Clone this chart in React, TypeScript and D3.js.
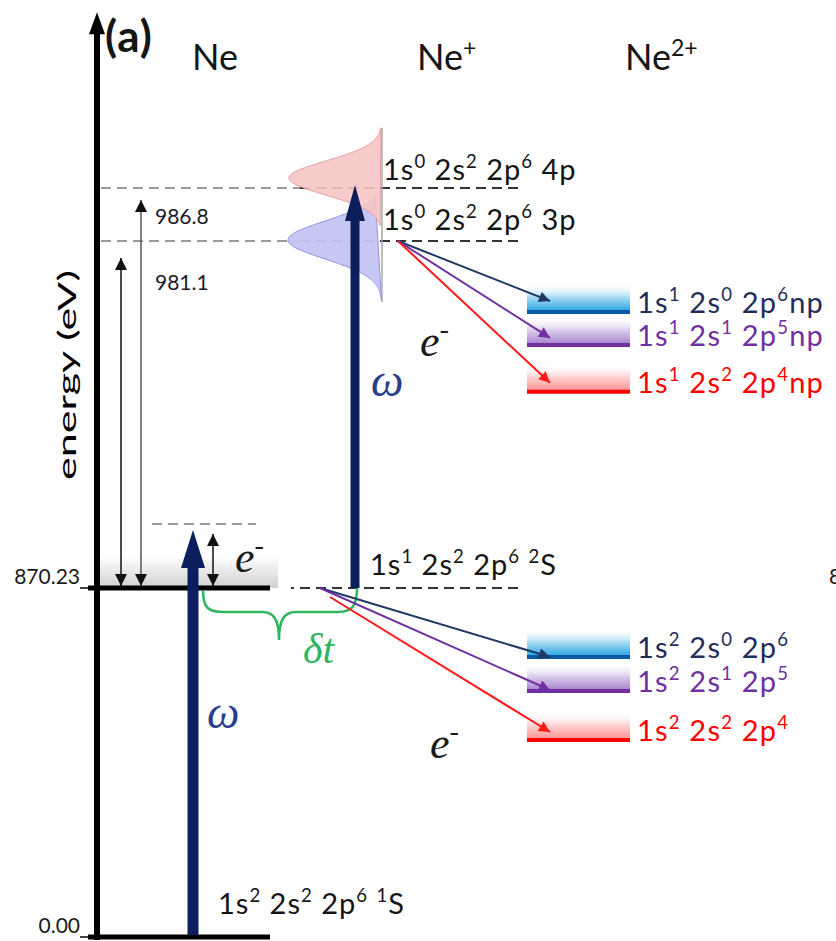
import React from "react";
import * as d3 from "d3";

const W = 836;
const H = 941;

// Energy axis (eV); the diagram is schematic, so the scale is piecewise.
const axisEnergies = [0, 870.23, 981.1, 986.8];
const axisTopEnergy = 1005.7;
const tickValues = [0, 870.23];
const tickLabels = ["0.00", "870.23"];

const groundEnergy = 0;
const coreHoleEnergy = 870.23;
const ionEdgeEnergy = 890.7;

const speciesNames = ["Ne", "Ne^{+}", "Ne^{2+}"];
const groundLabel = "1s^{2} 2s^{2} 2p^{6} ^{1}S";
const coreHoleLabel = "1s^{1} 2s^{2} 2p^{6} ^{2}S";

const resonanceEnergies = [986.8, 981.1];
const resonanceValueLabels = ["986.8", "981.1"];
const resonanceLabels = ["1s^{0} 2s^{2} 2p^{6} 4p", "1s^{0} 2s^{2} 2p^{6} 3p"];
const resonanceFills = ["#f8c6c6", "#c3c5f5"];
const resonanceStrokes = ["#e79595", "#8f8fdc"];

const upperFinalEnergies = [958.4, 947.9, 932.9];
const upperFinalLabels = ["1s^{1} 2s^{0} 2p^{6}np", "1s^{1} 2s^{1} 2p^{5}np", "1s^{1} 2s^{2} 2p^{4}np"];
const lowerFinalEnergies = [698.2, 613.4, 491.2];
const lowerFinalLabels = ["1s^{2} 2s^{0} 2p^{6}", "1s^{2} 2s^{1} 2p^{5}", "1s^{2} 2s^{2} 2p^{4}"];

const channelArrowColors = ["#1f3864", "#7030a0", "#ff1a1a"];
const channelLineColors = ["#0b5aa5", "#7030a0", "#ff0000"];
const channelBandColors = ["#1fa3e0", "#a47fcc", "#ff8d8d"];
const channelTextColors = ["#1f2d5a", "#7030a0", "#ff0000"];

const NAVY = "#0c1f5c";
const FONT = "Lato, 'Open Sans', sans-serif";
const SERIF = "'Liberation Serif', 'DejaVu Serif', serif";

const y = d3.scaleLinear().domain(axisEnergies).range([937, 588, 241, 188]);

function Label({ x, yb, text, size, fill = "#151515", family = FONT, italic = false, bold = false, spacing = 0 }) {
  const parts = text.split(/(\^\{[^}]*\})/).filter((p) => p.length > 0);
  let prevSup = false;
  const sh = size * 0.4;
  return (
    <text x={x} y={yb} fontSize={size} fill={fill} fontFamily={family} letterSpacing={spacing}
      fontStyle={italic ? "italic" : "normal"} fontWeight={bold ? "bold" : "normal"}>
      {parts.map((p, i) => {
        if (p.startsWith("^{")) {
          const el = (
            <tspan key={i} dy={prevSup ? 0 : -sh} fontSize={size * 0.64}>{p.slice(2, -1)}</tspan>
          );
          prevSup = true;
          return el;
        }
        const el = (
          <tspan key={i} dy={prevSup ? sh : 0}>{p}</tspan>
        );
        prevSup = false;
        return el;
      })}
    </text>
  );
}

function BigArrow({ x, y0, y1, half = 11, head = 36, shaft = 10 }) {
  const d = d3.path();
  d.moveTo(x - shaft / 2, y0);
  d.lineTo(x - shaft / 2, y1 + head);
  d.lineTo(x - half, y1 + head);
  d.lineTo(x, y1);
  d.lineTo(x + half, y1 + head);
  d.lineTo(x + shaft / 2, y1 + head);
  d.lineTo(x + shaft / 2, y0);
  d.closePath();
  return <path d={d.toString()} fill={NAVY} />;
}

function resonanceShape(centerY, sigma, amp, baseX, lo, hi) {
  const pts = d3.range(lo, hi + 0.001, 0.05).map((t) => [baseX - amp * Math.exp(-0.5 * t * t), centerY + t * sigma]);
  const line = d3.line();
  return line(pts) + "Z";
}

function FinalLevels({ energies, labels, arrowFrom, tipOffsets, idPrefix }) {
  const x0 = 527;
  const x1 = 630;
  return (
    <g>
      {energies.map((e, i) => {
        const ly = y(e);
        return (
          <g key={i}>
            <rect x={x0} y={ly - 29} width={x1 - x0} height={29} fill={`url(#${idPrefix}band${i})`} />
            <line x1={x0} x2={x1} y1={ly} y2={ly} stroke={channelLineColors[i]} strokeWidth={4} />
            <line x1={arrowFrom[i][0]} y1={arrowFrom[i][1]} x2={550} y2={ly - tipOffsets[i]}
              stroke={channelArrowColors[i]} strokeWidth={2} markerEnd={`url(#tip${i})`} />
            <Label x={637} yb={ly + 1} text={labels[i]} size={29} fill={channelTextColors[i]} spacing={1.2} />
          </g>
        );
      })}
    </g>
  );
}

export default function App() {
  const yCore = y(coreHoleEnergy);
  const yGround = y(groundEnergy);
  const yEdge = y(ionEdgeEnergy);
  const yTop = y(axisTopEnergy);
  const axisX = 97;

  const gaussPink = resonanceShape(y(resonanceEnergies[0]) - 10, 17, 93, 382, -2.95, 2.8);
  const gaussBlue = resonanceShape(y(resonanceEnergies[1]) - 1, 19, 94, 382, -2.3, 3.2);

  const upperFrom = [[398, y(resonanceEnergies[1])], [398, y(resonanceEnergies[1])], [398, y(resonanceEnergies[1])]];
  const lowerFrom = [[320, yCore], [320, yCore], [330, yCore + 9]];

  return (
    <div style={{ position: "absolute", left: 0, top: 0, width: W, height: H, background: "#fff" }}>
      <svg width={W} height={H} viewBox={`0 0 ${W} ${H}`} style={{ display: "block" }}>
        <defs>
          <marker id="thinTip" viewBox="0 0 10 10" refX={10} refY={5} markerWidth={12} markerHeight={12}
            markerUnits="userSpaceOnUse" orient="auto-start-reverse">
            <path d="M0,0 L10,5 L0,10 Z" fill="#111" />
          </marker>
          {channelArrowColors.map((c, i) => (
            <marker key={i} id={`tip${i}`} viewBox="0 0 10 10" refX={10} refY={5} markerWidth={13} markerHeight={11}
              markerUnits="userSpaceOnUse" orient="auto">
              <path d="M0,0 L10,5 L0,10 Z" fill={c} />
            </marker>
          ))}
          {["u", "l"].map((p) =>
            channelBandColors.map((c, i) => (
              <linearGradient key={p + i} id={`${p}band${i}`} x1="0" y1="0" x2="0" y2="1">
                <stop offset="0" stopColor="#fff" stopOpacity={0} />
                <stop offset="0.5" stopColor={c} stopOpacity={0.4} />
                <stop offset="1" stopColor={c} stopOpacity={1} />
              </linearGradient>
            ))
          )}
          <linearGradient id="coreBand" x1="0" y1="0" x2="0" y2="1">
            <stop offset="0" stopColor="#fff" />
            <stop offset="1" stopColor="#cfcfcf" />
          </linearGradient>
        </defs>

        {/* titles */}
        <Label x={105} yb={52} text="(a)" size={44} bold spacing={1} />
        <Label x={192} yb={70} text={speciesNames[0]} size={36} />
        <Label x={417} yb={70} text={speciesNames[1]} size={36} />
        <Label x={625} yb={70} text={speciesNames[2]} size={36} />

        {/* core-hole band */}
        <rect x={axisX} y={yCore - 32} width={181} height={32} fill="url(#coreBand)" />

        {/* dashed reference lines */}
        {resonanceEnergies.map((e, i) => (
          <g key={i}>
            <line x1={axisX + 4} x2={302} y1={y(e)} y2={y(e)} stroke="#9a9a9a" strokeWidth={2} strokeDasharray="10 6" />
            <line x1={300} x2={520} y1={y(e)} y2={y(e)} stroke="#333" strokeWidth={2} strokeDasharray="10 6" />
          </g>
        ))}
        <line x1={152} x2={256} y1={yEdge} y2={yEdge} stroke="#9a9a9a" strokeWidth={2} strokeDasharray="10 6" />
        <line x1={291} x2={520} y1={yCore} y2={yCore} stroke="#333" strokeWidth={2} strokeDasharray="3 6 10 6 10 6 10 6 10 6 10 6 10 6 10 6 10 6 10 6 10 6 10 6 10 6 10 6 10 6" />

        {/* resonance profiles */}
        <path d={gaussBlue} fill={resonanceFills[1]} stroke={resonanceStrokes[1]} strokeWidth={1} opacity={0.95} />
        <path d={gaussPink} fill={resonanceFills[0]} stroke={resonanceStrokes[0]} strokeWidth={1} opacity={0.9} />
        <line x1={382} x2={382} y1={y(resonanceEnergies[0]) - 60} y2={y(resonanceEnergies[1]) + 61} stroke="#a8a8a8" strokeWidth={1.5} />

        {/* axis */}
        <line x1={axisX} x2={axisX} y1={yGround + 3} y2={yTop + 18} stroke="#000" strokeWidth={6} />
        <path d={`M${axisX},${yTop} L${axisX - 8},${yTop + 22} L${axisX + 8},${yTop + 22} Z`} fill="#000" />
        {tickValues.map((v, i) => (
          <g key={i}>
            <line x1={80} x2={axisX} y1={y(v)} y2={y(v)} stroke="#000" strokeWidth={1.5} />
            <text x={80} y={y(v) - 4} textAnchor="end" fontSize={21} fontFamily={FONT} fill="#1a1a1a">{tickLabels[i]}</text>
          </g>
        ))}
        <text x={829} y={yCore - 4} fontSize={21} fontFamily={FONT} fill="#1a1a1a">{tickLabels[1]}</text>
        <text transform={`translate(76,375) rotate(-90)`} textAnchor="middle" fontSize={25} fontFamily={FONT} fill="#000"
          textLength={210} lengthAdjust="spacingAndGlyphs">energy (eV)</text>

        {/* levels */}
        <line x1={88} x2={270} y1={yGround} y2={yGround} stroke="#000" strokeWidth={5} />
        <line x1={88} x2={270} y1={yCore} y2={yCore} stroke="#000" strokeWidth={5} />

        {/* resonance energy markers */}
        <line x1={121} x2={121} y1={yCore - 2} y2={y(resonanceEnergies[1]) + 17} stroke="#111" strokeWidth={1.5}
          markerStart="url(#thinTip)" markerEnd="url(#thinTip)" />
        <line x1={141} x2={141} y1={yCore - 2} y2={y(resonanceEnergies[0]) + 12} stroke="#555" strokeWidth={1.5}
          markerStart="url(#thinTip)" markerEnd="url(#thinTip)" />
        <text x={155} y={y(resonanceEnergies[0]) + 36} fontSize={21} fontFamily={FONT} fill="#1a1a2a">{resonanceValueLabels[0]}</text>
        <text x={155} y={y(resonanceEnergies[1]) + 49} fontSize={21} fontFamily={FONT} fill="#1a1a2a">{resonanceValueLabels[1]}</text>
        <line x1={213} x2={213} y1={yCore - 2} y2={yEdge + 10} stroke="#111" strokeWidth={1.5}
          markerStart="url(#thinTip)" markerEnd="url(#thinTip)" />

        {/* photon arrows */}
        <BigArrow x={193} y0={yGround - 2} y1={yEdge + 6} half={12} head={38} shaft={11} />
        <BigArrow x={355} y0={yCore} y1={y(resonanceEnergies[0]) - 3} half={10} head={36} shaft={9} />

        {/* time-delay brace */}
        <path d="M203,590 C203,608 208,612 224,612 L262,612 C274,612 279,620 279,640 C279,620 284,612 296,612 L338,612 C352,612 357,606 357,588"
          fill="none" stroke="#2fb55d" strokeWidth={2.5} />
        <Label x={303} yb={663} text="δt" size={42} fill="#2fb55d" family={SERIF} italic />

        {/* state labels */}
        <Label x={218} yb={914} text={groundLabel} size={29} spacing={1} />
        <Label x={370} yb={575} text={coreHoleLabel} size={29} spacing={1} />
        {resonanceLabels.map((t, i) => (
          <Label key={i} x={383} yb={i === 0 ? 180 : 230} text={t} size={29} spacing={1} />
        ))}

        {/* Auger decay channels */}
        <FinalLevels energies={upperFinalEnergies} labels={upperFinalLabels} arrowFrom={upperFrom} tipOffsets={[11, 7, 9]} idPrefix="u" />
        <FinalLevels energies={lowerFinalEnergies} labels={lowerFinalLabels} arrowFrom={lowerFrom} tipOffsets={[0, 1, 8]} idPrefix="l" />

        {/* symbols */}
        <Label x={235} yb={572} text="e^{-}" size={44} fill="#1a1a1a" family={SERIF} italic />
        <Label x={420} yb={356} text="e^{-}" size={44} fill="#1a1a1a" family={SERIF} italic />
        <Label x={430} yb={758} text="e^{-}" size={44} fill="#1a1a1a" family={SERIF} italic />
        <Label x={207} yb={728} text="ω" size={46} fill="#2a3f8c" family={SERIF} italic />
        <Label x={371} yb={396} text="ω" size={46} fill="#2a3f8c" family={SERIF} italic />
      </svg>
    </div>
  );
}
